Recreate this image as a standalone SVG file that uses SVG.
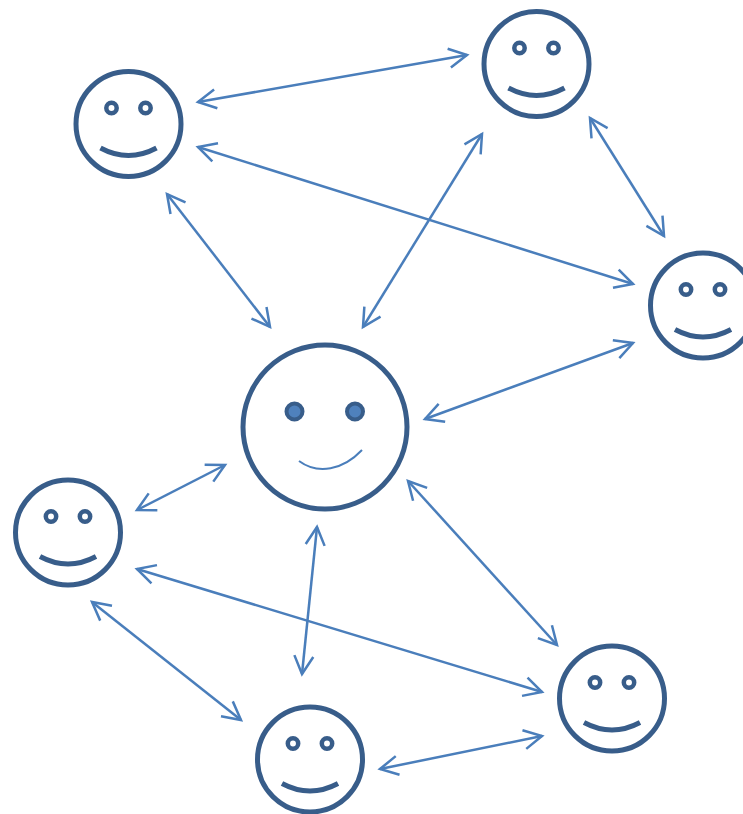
<svg xmlns="http://www.w3.org/2000/svg" width="743" height="814" viewBox="0 0 743 814">
<style>
.o{fill:#fff;stroke:#385d8a;stroke-width:5}
.e{fill:#fff;stroke:#385d8a;stroke-width:4.5}
.m{fill:none;stroke:#385d8a;stroke-width:5}
.c line{stroke:#4a7ebb;stroke-width:2.5;fill:none;marker-start:url(#a);marker-end:url(#a)}
</style>
<defs>
<marker id="a" markerUnits="userSpaceOnUse" markerWidth="30" markerHeight="30" refX="20" refY="15" orient="auto-start-reverse" viewBox="0 0 30 30">
<path d="M2 5.500L20 15L2 24.500" fill="none" stroke="#4a7ebb" stroke-width="2.500"/>
</marker>
<g id="f">
<circle class="o" r="52.500"/>
<circle class="e" cx="-17" cy="-16" r="5.200"/>
<circle class="e" cx="17" cy="-16" r="5.200"/>
<path class="m" d="M-28 24Q0 39 28 24"/>
</g>
</defs>
<g id="connectors" class="c">
<line x1="198" y1="102" x2="467" y2="55"/>
<line x1="198" y1="147" x2="633" y2="284"/>
<line x1="167" y1="194" x2="270" y2="327"/>
<line x1="482" y1="134" x2="363" y2="327"/>
<line x1="590" y1="118" x2="664" y2="236"/>
<line x1="633" y1="343" x2="425" y2="419"/>
<line x1="225" y1="465" x2="137" y2="510"/>
<line x1="408" y1="481" x2="557" y2="645"/>
<line x1="317" y1="527" x2="302" y2="674"/>
<line x1="137" y1="569" x2="542" y2="692"/>
<line x1="92" y1="602" x2="241" y2="720"/>
<line x1="542" y1="736" x2="380" y2="769"/>
</g>
<g id="node-a"><use href="#f" x="128.500" y="124"/></g>
<g id="node-b"><use href="#f" x="536.500" y="64"/></g>
<g id="node-c"><use href="#f" x="703" y="305.500"/></g>
<g id="node-d"><use href="#f" x="68" y="532.500"/></g>
<g id="node-e"><use href="#f" x="612" y="698.500"/></g>
<g id="node-f"><use href="#f" x="310" y="759.500"/></g>
<g id="node-center">
<circle class="o" cx="325" cy="427" r="82"/>
<circle cx="294.500" cy="411.500" r="8" fill="#4f81bd" stroke="#385d8a" stroke-width="4"/>
<circle cx="355" cy="411.500" r="8" fill="#4f81bd" stroke="#385d8a" stroke-width="4"/>
<path d="M299 461C318 475 343 470 362 450" fill="none" stroke="#4a7ebb" stroke-width="2"/>
</g>
</svg>
